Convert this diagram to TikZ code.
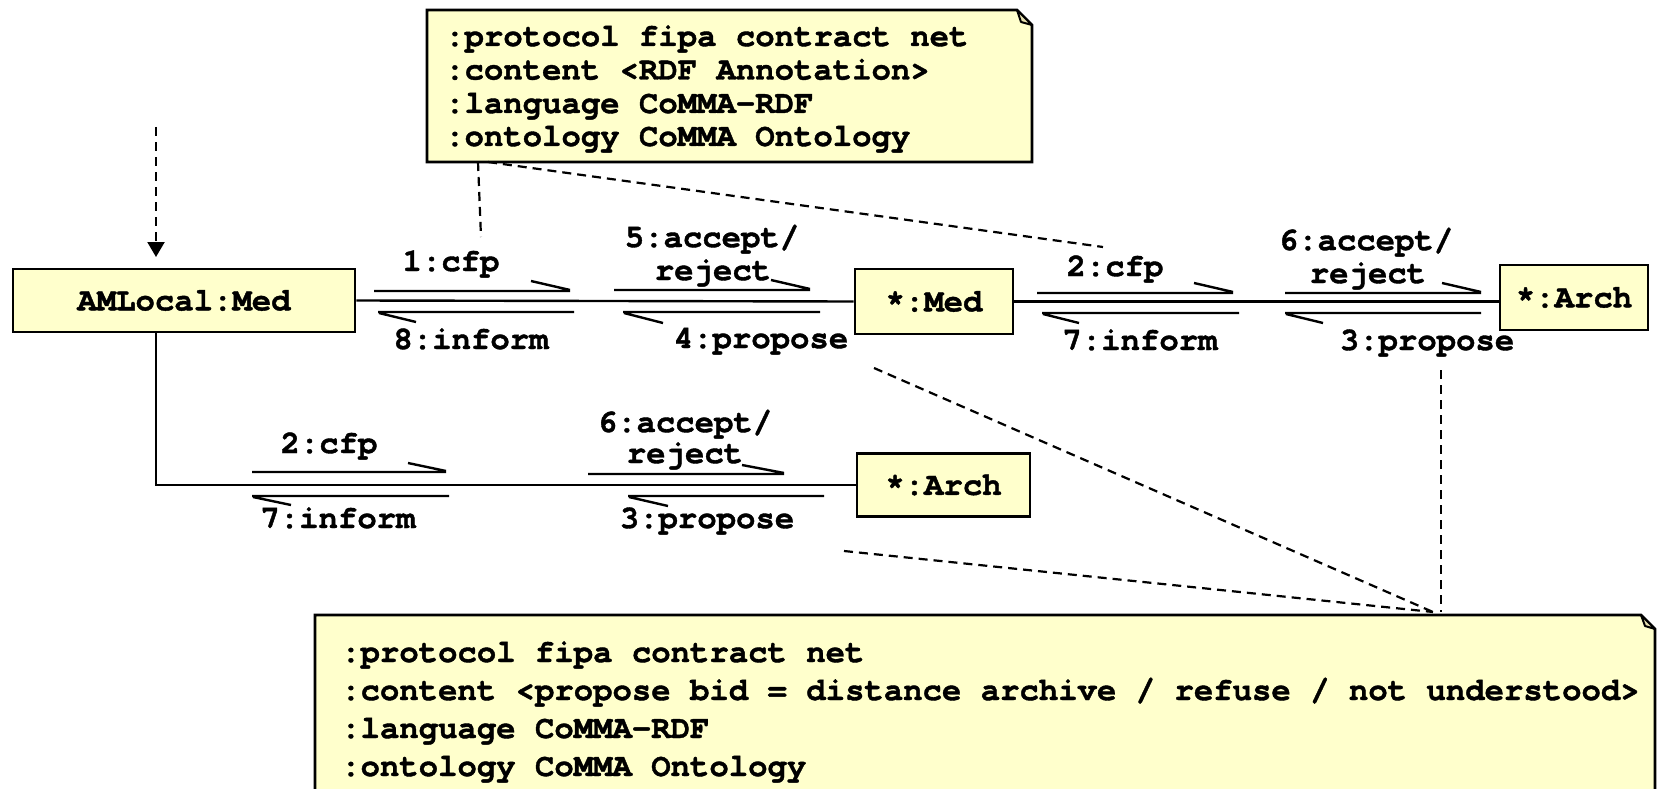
\documentclass[tikz,border=0pt]{standalone}
\usepackage{fontspec}
\setmonofont{texgyrecursor-regular.otf}[BoldFont=texgyrecursor-bold.otf, BoldFeatures={FakeBold=1.2}, Ligatures=NoCommon]
\usetikzlibrary{arrows.meta}
\definecolor{notefill}{HTML}{FFFFCC}
\definecolor{foldfill}{HTML}{E6E0B0}
\newcommand\diafont{\fontsize{32.3}{33}\selectfont\ttfamily\bfseries}
\tikzset{
  lbl/.style={font=\diafont, inner sep=0pt, anchor=base},
  obj/.style={draw=black, line width=2.8pt, fill=notefill, inner sep=0pt, font=\diafont},
  link/.style={line width=2.4pt},
  msg/.style={line width=2.4pt},
  dsh/.style={line width=2.2pt, dash pattern=on 9pt off 6pt},
  note/.style={draw=black, line width=2.6pt, fill=notefill, line join=miter},
  ntext/.style={font=\diafont, inner sep=0pt, anchor=base west},
}
\begin{document}
\begin{tikzpicture}[x=1pt,y=-1pt]
\useasboundingbox (0,0) rectangle (1661,789);
\clip (0,0) rectangle (1661,789);
\fill[white] (0,0) rectangle (1661,789);

% objects
\node[obj, minimum width=342pt, minimum height=63pt] (aml) at (184,300.5) {AMLocal:Med};
\node[obj, minimum width=158pt, minimum height=65pt] (med) at (934,301.5) {*:Med};
\node[obj, minimum width=148pt, minimum height=65pt] (archA) at (1574,297.5) {*:Arch};
\node[obj, minimum width=173pt, minimum height=63pt] (archB) at (943.5,485) {*:Arch};

% links
\draw[link] (aml.east) -- (med.west);
\draw[link] (med.east) -- (med.east -| archA.west);
\coordinate (amlfoot) at (156,332);
\coordinate (amlcorner) at (156,485);
\draw[link] (amlfoot) -- (amlcorner) -- (archB.west);

% incoming dashed arrow
\coordinate (instart) at (156,127);
\coordinate (inend) at (156,257);
\draw[dsh, -{Triangle[width=17pt,length=15pt]}] (instart) -- (inend);

% messages row 1, segment A
\draw[msg] (374,291) -- (570,291) (531,281) -- (570,290);
\draw[msg] (378,312) -- (574,312) (379,313) -- (416,322);
\node[lbl] (m1) at (451,271) {1:cfp};
\node[lbl] (m8) at (471,349) {8:inform};
% segment B
\draw[msg] (614,290) -- (810,290) (771,280) -- (810,289);
\draw[msg] (623,312) -- (820,312) (624,313) -- (663,323);
\node[lbl] (m5a) at (712,247) {5:accept/};
\node[lbl] (m5b) at (713,280) {reject};
\node[lbl] (m4) at (761,348) {4:propose};
% segment C
\draw[msg] (1037,293) -- (1233,293) (1194,283) -- (1233,292);
\draw[msg] (1042,313) -- (1239,313) (1043,314) -- (1079,323);
\node[lbl] (m2) at (1115,276) {2:cfp};
\node[lbl] (m7) at (1140,350) {7:inform};
% segment D
\draw[msg] (1285,293) -- (1481,293) (1442,283) -- (1481,292);
\draw[msg] (1285,313) -- (1481,313) (1286,314) -- (1323,323);
\node[lbl] (m6a) at (1366,250) {6:accept/};
\node[lbl] (m6b) at (1368,283) {reject};
\node[lbl] (m3) at (1427,350) {3:propose};

% row 2 segment A
\draw[msg] (252,472) -- (446,472) (408,463) -- (446,471);
\draw[msg] (252,496) -- (449,496) (253,497) -- (291,505);
\node[lbl] (n2) at (329,453) {2:cfp};
\node[lbl] (n7) at (338,528) {7:inform};
% row 2 segment B
\draw[msg] (588,474) -- (784,474) (742,465) -- (784,473);
\draw[msg] (628,496) -- (824,496) (629,497) -- (668,506);
\node[lbl] (n6a) at (685,432) {6:accept/};
\node[lbl] (n6b) at (685,463) {reject};
\node[lbl] (n3) at (707,528) {3:propose};

% top note
\draw[note] (427,10) -- (1017,10) -- (1032,25) -- (1032,162) -- (427,162) -- cycle;
\draw[line width=2pt, fill=foldfill, line join=round] (1017,10) -- (1021,22) -- (1032,25) -- cycle;
\node[ntext] (t1) at (445,46) {:protocol fipa contract net};
\node[ntext] (t2) at (445,79.5) {:content <RDF Annotation>};
\node[ntext] (t3) at (445,113) {:language CoMMA-RDF};
\node[ntext] (t4) at (445,146) {:ontology CoMMA Ontology};

% top note anchors
\coordinate (tnA) at (478,162);
\coordinate (tnAend) at (481,237);
\coordinate (tnB) at (488,162);
\coordinate (tnBend) at (1103,247);
\draw[dsh] (tnA) -- (tnAend);
\draw[dsh] (tnB) -- (tnBend);

% bottom note
\draw[note] (315,615) -- (1641,615) -- (1655,629) -- (1655,805) -- (315,805) -- cycle;
\draw[line width=2pt, fill=foldfill, line join=round] (1641,615) -- (1645,626) -- (1655,629) -- cycle;
\node[ntext] (b1) at (341,662) {:protocol fipa contract net};
\node[ntext] (b2) at (341,700) {:content <propose bid = distance archive / refuse / not understood>};
\node[ntext] (b3) at (341,738) {:language CoMMA-RDF};
\node[ntext] (b4) at (341,776) {:ontology CoMMA Ontology};

% bottom note anchors
\coordinate (bnA) at (1433,612);
\coordinate (bnV) at (1441,612);
\coordinate (bnAs) at (874,368);
\coordinate (bnBs) at (844,551);
\coordinate (bnVs) at (1441,370);
\draw[dsh] (bnAs) -- (bnA);
\draw[dsh] (bnBs) -- (bnA);
\draw[dsh] (bnVs) -- (bnV);
\end{tikzpicture}
\end{document}
